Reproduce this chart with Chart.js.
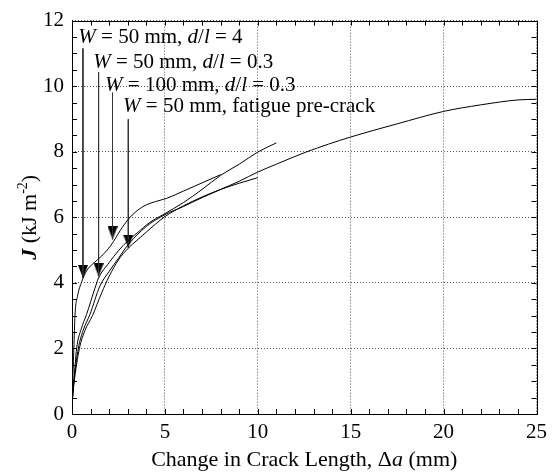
<!DOCTYPE html>
<html>
<head>
<meta charset="utf-8">
<script src="https://cdn.jsdelivr.net/npm/chart.js@4/dist/chart.umd.min.js"></script>
<style>
  html, body { margin: 0; padding: 0; background: #fff; }
  #wrap { width: 553px; height: 472px; }
</style>
</head>
<body>
<div id="wrap"><canvas id="jChart" width="553" height="472"></canvas></div>
<script>
// J-resistance curves
const curve1X = [0, 0.05, 0.1, 0.16, 0.3, 0.52, 0.8, 1.16, 1.6, 2.1, 2.6, 3.0, 3.5, 4.0, 4.5, 5.1, 6, 7, 8];
const curve1Y = [0.4, 1.2, 2.0, 3.0, 3.6, 4.03, 4.38, 4.6, 4.82, 5.15, 5.6, 5.92, 6.2, 6.38, 6.48, 6.58, 6.8, 7.05, 7.3];

const curve2X = [0, 0.1, 0.25, 0.5, 0.78, 1.23, 1.43, 2.0, 2.5, 3.0, 3.5, 4.2, 4.9, 6, 7, 8, 9, 10, 11];
const curve2Y = [0.3, 1.0, 2.0, 2.6, 3.03, 3.83, 4.15, 4.62, 4.98, 5.28, 5.52, 5.85, 6.08, 6.45, 6.85, 7.28, 7.62, 7.99, 8.27];

const curve3X = [0, 0.1, 0.34, 0.6, 0.96, 1.5, 2.0, 2.5, 3.0, 4.0, 5.0, 6, 7, 8, 9, 10, 11, 12.6, 15, 17.5, 20, 22, 24, 25];
const curve3Y = [0.3, 1.0, 2.0, 2.55, 3.03, 3.9, 4.35, 4.75, 5.15, 5.72, 6.08, 6.33, 6.6, 6.85, 7.1, 7.38, 7.62, 7.99, 8.45, 8.85, 9.23, 9.43, 9.58, 9.6];

const curve4X = [0, 0.1, 0.4, 0.7, 1.1, 1.6, 2.0, 2.5, 3.03, 3.5, 4.0, 5.0, 6, 7, 8, 9, 10];
const curve4Y = [0.3, 0.9, 2.0, 2.55, 3.0, 3.7, 4.2, 4.7, 5.06, 5.3, 5.55, 6.02, 6.35, 6.62, 6.85, 7.04, 7.21];

// initiation markers (arrow tips) and arrow tops
const markerX = [0.59, 1.43, 2.18, 3.03];
const markerY = [4.15, 4.2, 5.33, 5.07];
const arrowTopY = [11.15, 10.43, 9.8, 8.99];

const labelTexts = [
    [['W', 'i'], [' = 50 mm, ', 'r'], ['d', 'i'], ['/', 'r'], ['l', 'i'], [' = 4', 'r']],
    [['W', 'i'], [' = 50 mm, ', 'r'], ['d', 'i'], ['/', 'r'], ['l', 'i'], [' = 0.3', 'r']],
    [['W', 'i'], [' = 100 mm, ', 'r'], ['d', 'i'], ['/', 'r'], ['l', 'i'], [' = 0.3', 'r']],
    [['W', 'i'], [' = 50 mm, fatigue pre-crack', 'r']]
];
// label anchors in data units (left edge, baseline)
const labelAt = [[0.34, 11.33], [1.14, 10.55], [1.78, 9.86], [2.75, 9.2]];

const xTicks = [0, 5, 10, 15, 20, 25];
const yTicks = [0, 2, 4, 6, 8, 10, 12];

const SERIF = '"Liberation Serif", "DejaVu Serif", serif';

function pts(xs, ys) {
    return xs.map((x, i) => ({ x: x, y: ys[i] }));
}

// filled down-pointing triangle, tip at canvas centre
function makeTriangle() {
    const c = document.createElement('canvas');
    c.width = 10;
    c.height = 26;
    const g = c.getContext('2d');
    g.fillStyle = '#000';
    g.beginPath();
    g.moveTo(0, 0);
    g.lineTo(10, 0);
    g.lineTo(5, 13);
    g.closePath();
    g.fill();
    return c;
}

function drawParts(ctx, parts, x, y, size) {
    parts.forEach(p => {
        ctx.font = (p[1] === 'i' ? 'italic ' : '') + size + 'px ' + SERIF;
        ctx.fillText(p[0], x, y);
        x += ctx.measureText(p[0]).width;
    });
}

const frameAndText = {
    id: 'frameAndText',
    afterDatasetsDraw(chart) {
        const ctx = chart.ctx;
        const a = chart.chartArea;
        const xs = chart.scales.x, ys = chart.scales.y;
        ctx.save();
        ctx.strokeStyle = '#000';
        ctx.lineWidth = 1;
        ctx.setLineDash([]);
        ctx.strokeRect(Math.round(a.left) + 0.5, Math.round(a.top) + 0.5,
            Math.round(a.right - a.left), Math.round(a.bottom - a.top));

        // inward ticks on all four sides
        const tl = 5;
        ctx.beginPath();
        for (let v = 0; v <= 25; v += 1) {
            const px = Math.round(xs.getPixelForValue(v)) + 0.5;
            ctx.moveTo(px, a.bottom); ctx.lineTo(px, a.bottom - tl);
            ctx.moveTo(px, a.top); ctx.lineTo(px, a.top + tl);
        }
        for (let v = 0; v <= 12; v += 0.5) {
            const py = Math.round(ys.getPixelForValue(v)) + 0.5;
            ctx.moveTo(a.left, py); ctx.lineTo(a.left + tl, py);
            ctx.moveTo(a.right, py); ctx.lineTo(a.right - tl, py);
        }
        ctx.stroke();

        // curve labels
        ctx.fillStyle = '#000';
        ctx.textBaseline = 'alphabetic';
        ctx.textAlign = 'left';
        labelTexts.forEach((parts, i) => {
            drawParts(ctx, parts, xs.getPixelForValue(labelAt[i][0]), ys.getPixelForValue(labelAt[i][1]), 21);
        });

        // x title
        const xt = [['Change in Crack Length, \u0394', 'r'], ['a', 'i'], [' (mm)', 'r']];
        let w = 0;
        xt.forEach(p => {
            ctx.font = (p[1] === 'i' ? 'italic ' : '') + '22px ' + SERIF;
            w += ctx.measureText(p[0]).width;
        });
        drawParts(ctx, xt, (a.left + a.right) / 2 - w / 2, 466, 22);

        // y title, rotated
        ctx.translate(36, (a.top + a.bottom) / 2);
        ctx.rotate(-Math.PI / 2);
        ctx.font = 'italic bold 22px ' + SERIF;
        const wJ = ctx.measureText('J').width;
        ctx.font = '22px ' + SERIF;
        const w1 = ctx.measureText(' (kJ m').width;
        const w3 = ctx.measureText(')').width;
        ctx.font = '14px ' + SERIF;
        const w2 = ctx.measureText('-2').width;
        let x0 = -(wJ + w1 + w2 + w3) / 2;
        ctx.font = 'italic bold 22px ' + SERIF;
        ctx.fillText('J', x0, 0); x0 += wJ;
        ctx.font = '22px ' + SERIF;
        ctx.fillText(' (kJ m', x0, 0); x0 += w1;
        ctx.font = '14px ' + SERIF;
        ctx.fillText('-2', x0, -9); x0 += w2;
        ctx.font = '22px ' + SERIF;
        ctx.fillText(')', x0, 0);
        ctx.restore();
    }
};

const curveStyle = {
    borderColor: '#000',
    borderWidth: 1,
    pointRadius: 0,
    fill: false,
    cubicInterpolationMode: 'monotone'
};

const datasets = [
    Object.assign({ label: 'W = 50 mm, d/l = 4', data: pts(curve1X, curve1Y) }, curveStyle),
    Object.assign({ label: 'W = 50 mm, d/l = 0.3', data: pts(curve2X, curve2Y) }, curveStyle),
    Object.assign({ label: 'W = 100 mm, d/l = 0.3', data: pts(curve3X, curve3Y) }, curveStyle),
    Object.assign({ label: 'W = 50 mm, fatigue pre-crack', data: pts(curve4X, curve4Y) }, curveStyle)
];

markerX.forEach((mx, i) => {
    datasets.push({
        label: 'arrow ' + (i + 1),
        data: [{ x: mx, y: arrowTopY[i] }, { x: mx, y: markerY[i] }],
        borderColor: '#333',
        borderWidth: 1,
        pointRadius: 0,
        tension: 0
    });
});

const tri = makeTriangle();
datasets.push({
    label: 'initiation',
    data: pts(markerX, markerY),
    showLine: false,
    pointStyle: tri,
    pointRadius: 6,
    borderColor: '#000',
    backgroundColor: '#000'
});

new Chart(document.getElementById('jChart'), {
    type: 'line',
    data: { datasets: datasets },
    options: {
        responsive: false,
        animation: false,
        events: [],
        layout: { padding: { left: 28, top: 15, right: 16, bottom: 0 } },
        plugins: { legend: { display: false }, tooltip: { enabled: false } },
        scales: {
            x: {
                type: 'linear',
                min: 0,
                max: 25,
                afterBuildTicks: s => { s.ticks = xTicks.map(v => ({ value: v })); },
                afterFit: s => { s.height = 58; },
                grid: { color: '#555', drawTicks: false, lineWidth: 1 },
                border: { display: false, dash: [1, 2] },
                ticks: { color: '#000', padding: 6, font: { family: SERIF, size: 21 } }
            },
            y: {
                min: 0,
                max: 12,
                afterBuildTicks: s => { s.ticks = yTicks.map(v => ({ value: v })); },
                afterFit: s => { s.width = 44; },
                grid: { color: '#555', drawTicks: false, lineWidth: 1 },
                border: { display: false, dash: [1, 2] },
                ticks: { color: '#000', padding: 8, font: { family: SERIF, size: 21 } }
            }
        }
    },
    plugins: [frameAndText]
});
</script>
</body>
</html>
